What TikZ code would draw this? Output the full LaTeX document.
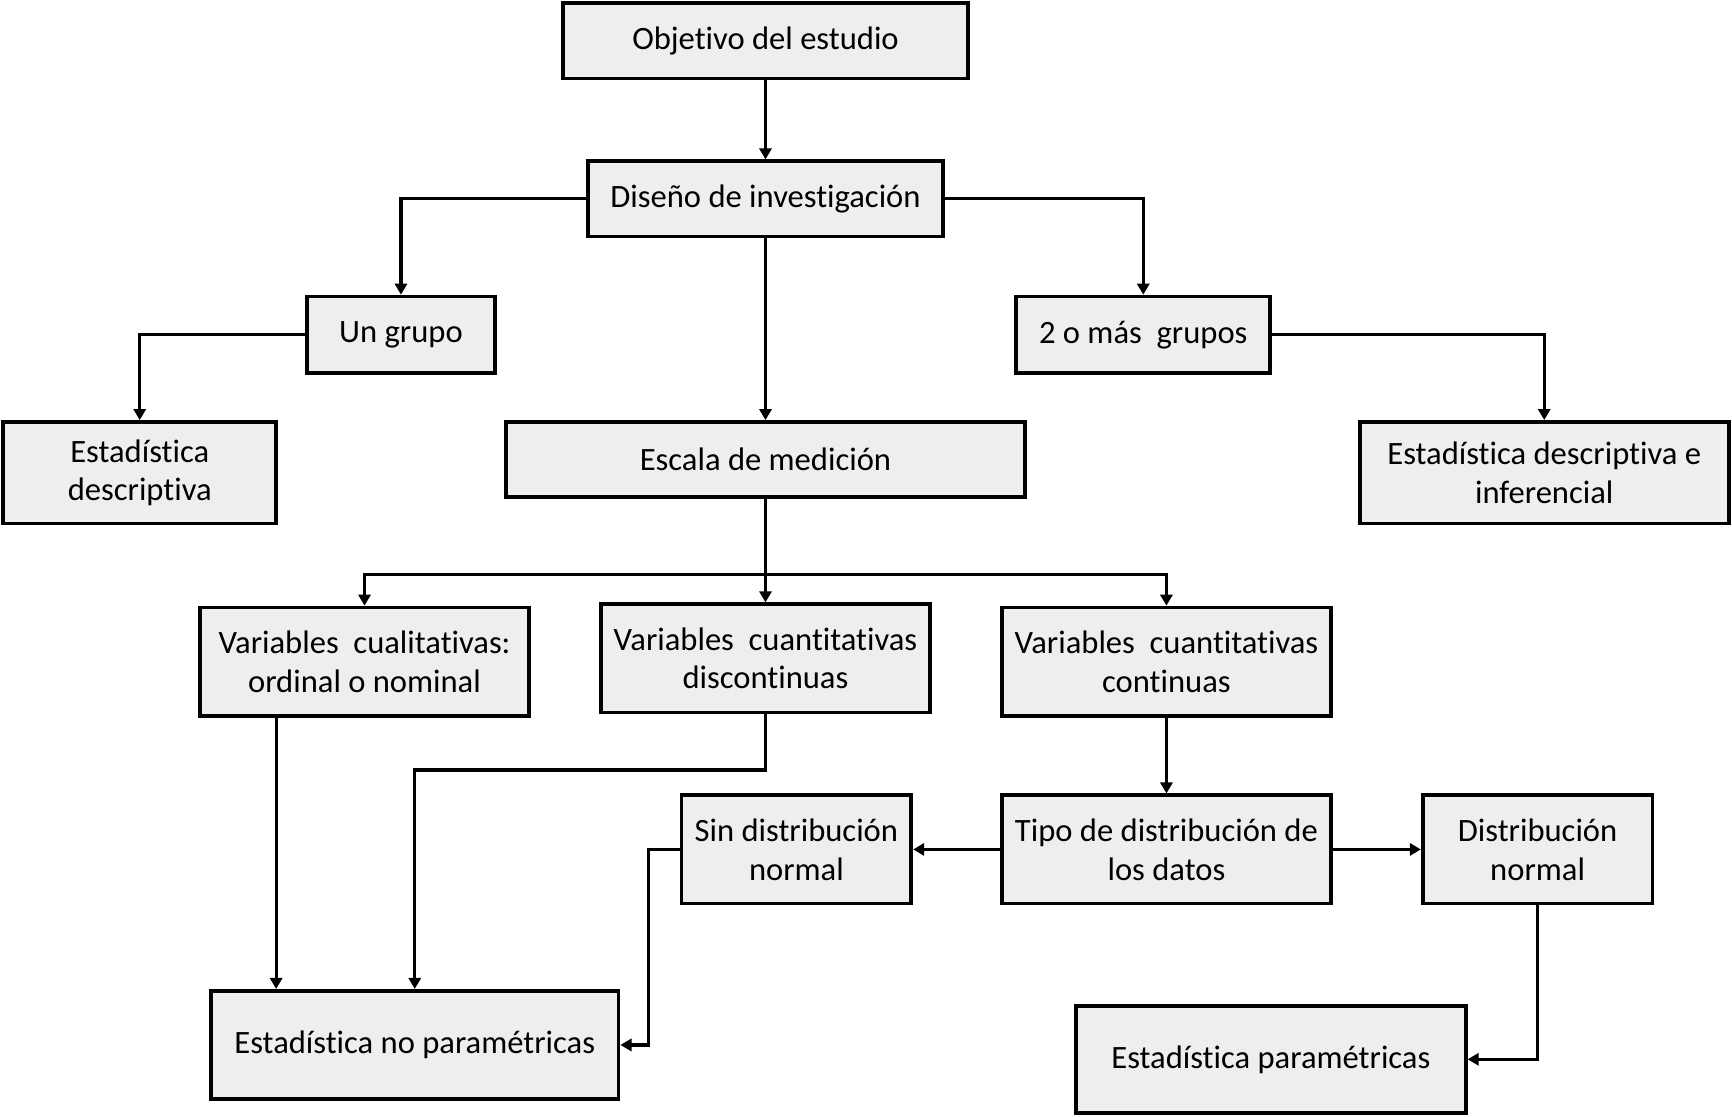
\documentclass[tikz,border=0pt]{standalone}
\usepackage{fontspec}
\setmainfont{Carlito}[Ligatures={NoCommon}]
\usetikzlibrary{arrows.meta}
\definecolor{boxgray}{RGB}{238,238,238}
\tikzset{
  box/.style={draw=black, fill=boxgray, line width=3.4pt, align=center, inner sep=0pt,
    font=\fontsize{29.5}{35.2}\selectfont},
  conn/.style={line width=2.9pt, draw=black},
  arr/.style={conn, -{Triangle[width=11pt,length=10pt]}}
}
\begin{document}
\begin{tikzpicture}[x=1pt,y=-1pt]
\useasboundingbox (0,0) rectangle (1568,1011);
\node[box, minimum width=366pt, minimum height=68pt] (obj) at (693,37) {Objetivo del estudio};
\node[box, minimum width=322pt, minimum height=68pt] (dis) at (693,180) {Diseño de investigación};
\node[box, minimum width=170pt, minimum height=69pt] (ung) at (363,303) {Un grupo};
\node[box, minimum width=230pt, minimum height=69pt] (dos) at (1035,303) {2 o más\ \ grupos};
\node[box, minimum width=247pt, minimum height=92pt] (edesc) at (126.5,428) {Estadística\\descriptiva};
\node[box, minimum width=470pt, minimum height=68pt] (esc) at (693,416) {Escala de medición};
\node[box, minimum width=334pt, minimum height=92pt] (edi) at (1398,428) {Estadística descriptiva e\\inferencial};
\node[box, minimum width=298pt, minimum height=98pt] (vcual) at (330,599) {Variables\ \ cualitativas:\\ordinal o nominal};
\node[box, minimum width=298pt, minimum height=98pt] (vdisc) at (693,596) {Variables\ \ cuantitativas\\discontinuas};
\node[box, minimum width=298pt, minimum height=98pt] (vcont) at (1056,599) {Variables\ \ cuantitativas\\continuas};
\node[box, minimum width=208pt, minimum height=98pt] (sin) at (721,769) {Sin distribución\\normal};
\node[box, minimum width=298pt, minimum height=98pt] (tipo) at (1056,769) {Tipo de distribución de\\los datos};
\node[box, minimum width=208pt, minimum height=98pt] (dnorm) at (1392,769) {Distribución\\normal};
\node[box, minimum width=369pt, minimum height=98pt] (enp) at (375.5,946) {Estadística no paramétricas};
\node[box, minimum width=353pt, minimum height=97pt] (ep) at (1150.5,959) {Estadística paramétricas};

\draw[arr] (obj.south) -- (dis.north);
\draw[arr] (dis.west) -| (ung.north);
\draw[arr] (dis.east) -| (dos.north);
\draw[arr] (dis.south) -- (esc.north);
\draw[arr] (ung.west) -| (edesc.north);
\draw[arr] (dos.east) -| (edi.north);
\coordinate (j) at (693,520);
\draw[conn] (esc.south) -- (j);
\draw[arr] (j) -| (vcual.north);
\draw[arr] (j) -- (vdisc.north);
\draw[arr] (j) -| (vcont.north);
\draw[arr] ([xshift=-80pt]vcual.south) -- ([xshift=-80pt]vcual.south |- enp.north);
\coordinate (k) at (693,697);
\draw[arr] (vdisc.south) -- (k) -| (enp.north);
\draw[arr] (vcont.south) -- (tipo.north);
\draw[arr] (tipo.west) -- (sin.east);
\draw[arr] (tipo.east) -- (dnorm.west);
\draw[arr] (sin.west) -- ++(-28pt,0pt) |- (enp.east);
\draw[arr] (dnorm.south) |- (ep.east);
\end{tikzpicture}
\end{document}
